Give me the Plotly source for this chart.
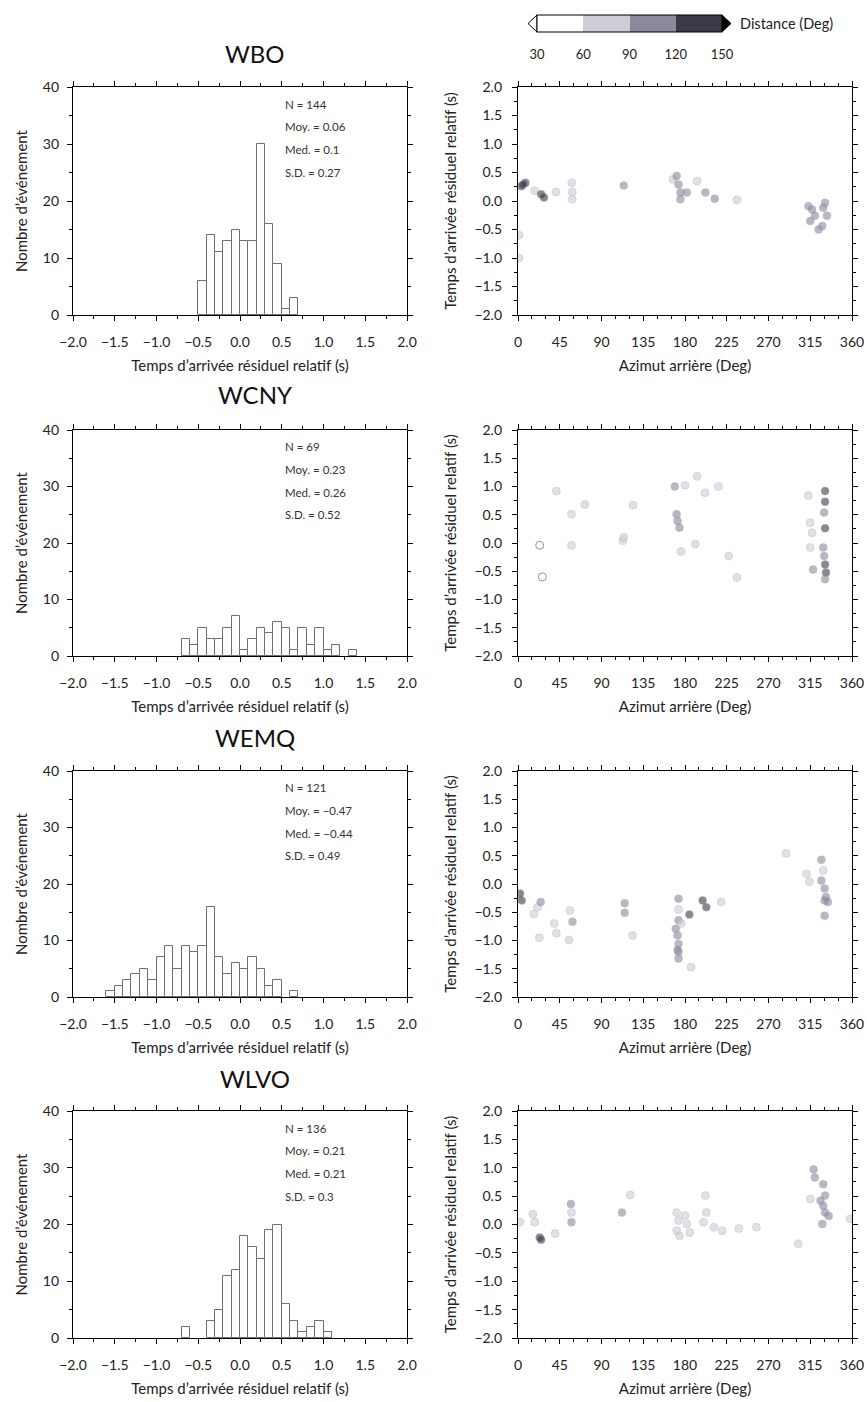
import plotly.graph_objects as go
from plotly.subplots import make_subplots

# station names and summary stats
stations = ["WBO", "WCNY", "WEMQ", "WLVO"]
stats_n = ["144", "69", "121", "136"]
stats_moy = ["0.06", "0.23", "\u22120.47", "0.21"]
stats_med = ["0.1", "0.26", "\u22120.44", "0.21"]
stats_sd = ["0.27", "0.52", "0.49", "0.3"]

# histogram bins (left edge, width 0.1 s) and counts
wbo_bins = [-0.5, -0.4, -0.3, -0.2, -0.1, 0.0, 0.1, 0.2, 0.3, 0.4, 0.5, 0.6]
wbo_counts = [6, 14, 11, 13, 15, 13, 13, 30, 16, 9, 1, 3]

wcny_bins = [-0.7, -0.6, -0.5, -0.4, -0.3, -0.2, -0.1, 0.0, 0.1, 0.2,
             0.3, 0.4, 0.5, 0.6, 0.7, 0.8, 0.9, 1.0, 1.1, 1.3]
wcny_counts = [3, 2, 5, 3, 3, 5, 7, 1, 3, 5, 4, 6, 5, 1, 5, 2, 5, 1, 2, 1]

wemq_bins = [-1.6, -1.5, -1.4, -1.3, -1.2, -1.1, -1.0, -0.9, -0.8, -0.7, -0.6,
             -0.5, -0.4, -0.3, -0.2, -0.1, 0.0, 0.1, 0.2, 0.3, 0.4, 0.6]
wemq_counts = [1, 2, 3, 4, 5, 3, 7, 9, 5, 9, 8, 9, 16, 7, 4, 6, 5, 7, 5, 2, 3, 1]

wlvo_bins = [-0.7, -0.4, -0.3, -0.2, -0.1, 0.0, 0.1, 0.2, 0.3, 0.4, 0.5,
             0.6, 0.7, 0.8, 0.9, 1.0]
wlvo_counts = [2, 3, 5, 11, 12, 18, 16, 14, 19, 20, 6, 3, 1, 2, 3, 1]

# back azimuth (deg), relative residual (s), epicentral distance (deg)
wbo_az = [3.6, 5.4, 8, 18, 25, 28, 41, 58, 58.5, 58.5, 114, 167, 171, 173, 175, 175,
          182, 193, 202, 212, 236, 313, 315, 317, 320, 324, 328, 329, 331, 333, 1, 1]
wbo_res = [0.26, 0.29, 0.32, 0.18, 0.12, 0.06, 0.16, 0.32, 0.16, 0.03, 0.27, 0.38, 0.44,
           0.29, 0.15, 0.03, 0.15, 0.35, 0.15, 0.04, 0.02, -0.09, -0.35, -0.15, -0.26,
           -0.5, -0.44, -0.12, -0.03, -0.26, -0.6, -1.0]
wbo_dist = [130, 130, 130, 70, 130, 130, 70, 80, 85, 85, 90, 85, 95, 95, 95, 90,
            95, 70, 95, 95, 65, 90, 95, 90, 95, 95, 100, 110, 110, 100, 65, 65]

wcny_az = [23.4, 26.3, 41.4, 57.6, 57.6, 72, 113, 114, 124, 169, 180, 171, 172, 174,
           175.7, 191, 201.6, 193, 216, 227, 236, 313, 331, 331, 330, 331, 315, 317,
           315, 318, 329, 330, 331, 332, 331]
wcny_res = [-0.04, -0.6, 0.92, 0.51, -0.04, 0.68, 0.04, 0.1, 0.67, 1.0, 1.02, 0.51,
            0.39, 0.27, -0.15, -0.02, 0.89, 1.18, 1.0, -0.23, -0.61, 0.84, 0.92, 0.73,
            0.54, 0.26, 0.36, 0.18, -0.08, -0.47, -0.08, -0.23, -0.38, -0.52, -0.64]
wcny_dist = [45, 45, 80, 85, 85, 65, 85, 85, 65, 100, 85, 100, 100, 100, 85, 65, 85,
             65, 65, 65, 65, 70, 130, 130, 100, 130, 80, 70, 80, 90, 95, 100, 130, 120, 100]

wemq_az = [2.2, 4, 17, 21, 24.5, 23, 39, 41.4, 56, 58.7, 55, 115, 115, 123.5, 173, 173,
           173, 170, 172, 173, 172, 173, 186.5, 184.7, 199, 203, 219, 327, 329, 327,
           330.5, 332, 334, 330.5, 330.5, 311, 314, 289, 173, 176]
wemq_res = [-0.17, -0.29, -0.53, -0.41, -0.32, -0.95, -0.70, -0.87, -0.47, -0.67, -0.99,
            -0.34, -0.51, -0.91, -0.26, -0.45, -0.64, -0.79, -0.91, -1.06, -1.17, -1.32,
            -1.47, -0.54, -0.29, -0.41, -0.32, 0.43, 0.24, 0.06, -0.08, -0.23, -0.32,
            -0.29, -0.56, 0.18, 0.04, 0.54, -1.2, -0.7]
wemq_dist = [120, 125, 75, 85, 95, 85, 85, 85, 80, 95, 85, 95, 95, 85, 95, 85, 90, 95,
             95, 95, 95, 95, 70, 135, 130, 130, 65, 95, 85, 90, 95, 95, 100, 95, 95,
             65, 65, 65, 95, 80]

wlvo_az = [2, 16, 18, 23.4, 25, 40, 57, 57.6, 57.6, 112, 121, 171, 173, 171, 174, 182,
           185, 180, 202, 203, 200, 211, 220, 238, 257, 318.6, 320, 315, 329, 331, 329,
           331, 334.8, 326, 328, 358, 302]
wlvo_res = [0.04, 0.18, 0.04, -0.23, -0.27, -0.16, 0.36, 0.21, 0.04, 0.21, 0.52, 0.21,
            0.07, -0.11, -0.2, 0.01, -0.14, 0.16, 0.51, 0.21, 0.04, -0.05, -0.11, -0.07,
            -0.05, 0.97, 0.83, 0.45, 0.71, 0.51, 0.33, 0.21, 0.15, 0.42, 0.01, 0.1, -0.34]
wlvo_dist = [70, 65, 75, 130, 135, 75, 95, 80, 90, 100, 85, 85, 85, 85, 80, 85, 75, 80,
             85, 65, 85, 85, 75, 70, 65, 100, 95, 65, 115, 100, 95, 95, 90, 100, 115, 80, 65]

dist_ticks = [30, 60, 90, 120, 150]

hist_data = [(wbo_bins, wbo_counts), (wcny_bins, wcny_counts),
             (wemq_bins, wemq_counts), (wlvo_bins, wlvo_counts)]
scat_data = [(wbo_az, wbo_res, wbo_dist), (wcny_az, wcny_res, wcny_dist),
             (wemq_az, wemq_res, wemq_dist), (wlvo_az, wlvo_res, wlvo_dist)]

FONT = "Lato"
W, H = 867, 1402

fig = make_subplots(rows=4, cols=2)

# pixel layout of the plot boxes
left_x = (73, 407)
right_x = (518, 852)
row_y = [(87, 315), (430, 656), (771, 997), (1111, 1338)]
title_y = [53, 395, 737, 1078]

for i in range(4):
    bins, counts = hist_data[i]
    fig.add_trace(go.Bar(x=bins, y=counts, width=0.1, offset=0,
                         marker=dict(color="white", line=dict(color="#707070", width=1)),
                         showlegend=False), row=i + 1, col=1)
    az, res, dist = scat_data[i]
    edge = ["#222222" if d < 60 else "rgba(125,125,160,0.45)" for d in dist]
    fig.add_trace(go.Scatter(x=az, y=res, mode="markers",
                             marker=dict(size=8, color=dist, coloraxis="coloraxis",
                                         opacity=0.6, line=dict(color=edge, width=0.8)),
                             showlegend=False), row=i + 1, col=2)

axis_common = dict(showline=True, linecolor="black", linewidth=1.3, mirror="ticks",
                   ticks="outside", ticklen=5, tickcolor="black", tickwidth=1,
                   showgrid=False, zeroline=False, automargin=False,
                   tickfont=dict(family=FONT, size=14, color="#222"),
                   title_font=dict(family=FONT, size=15, color="#222"))

for i in range(4):
    y0 = 1 - row_y[i][1] / H
    y1 = 1 - row_y[i][0] / H
    k = 2 * i + 1
    # histogram axes
    fig.layout[f"xaxis{k if k > 1 else ''}"].update(
        domain=[left_x[0] / W, left_x[1] / W], range=[-2, 2], dtick=0.5, tickformat=".1f",
        ticklabelstandoff=9,
        minor=dict(dtick=0.25, ticklen=3, ticks="outside", tickcolor="black"),
        title=dict(text="Temps d\u2019arrivée résiduel relatif (s)", standoff=11), **axis_common)
    fig.layout[f"yaxis{k if k > 1 else ''}"].update(
        domain=[y0, y1], range=[0, 40], dtick=10, ticklabelstandoff=5,
        minor=dict(dtick=5, ticklen=3, ticks="outside", tickcolor="black"),
        title=dict(text="Nombre d\u2019événement", standoff=11), **axis_common)
    # scatter axes
    fig.layout[f"xaxis{k + 1}"].update(
        domain=[right_x[0] / W, right_x[1] / W], range=[0, 360], dtick=45,
        ticklabelstandoff=9,
        minor=dict(dtick=15, ticklen=3, ticks="outside", tickcolor="black"),
        title=dict(text="Azimut arrière (Deg)", standoff=11), **axis_common)
    fig.layout[f"yaxis{k + 1}"].update(
        domain=[y0, y1], range=[-2, 2], dtick=0.5, tickformat=".1f", ticklabelstandoff=7,
        minor=dict(dtick=0.25, ticklen=3, ticks="outside", tickcolor="black"),
        title=dict(text="Temps d\u2019arrivée résiduel relatif (s)", standoff=14), **axis_common)

    # station name
    fig.add_annotation(text=stations[i], x=255 / W, y=1 - title_y[i] / H, xref="paper",
                       yref="paper", showarrow=False, xanchor="center", yanchor="middle",
                       font=dict(family=FONT, size=24, color="#111"))
    # stats box
    xr = "x domain" if i == 0 else f"x{k} domain"
    yr = "y domain" if i == 0 else f"y{k} domain"
    lines = [f"N = {stats_n[i]}", f"Moy. = {stats_moy[i]}",
             f"Med. = {stats_med[i]}", f"S.D. = {stats_sd[i]}"]
    for j, t in enumerate(lines):
        fig.add_annotation(text=t, x=0.63, y=0.925 - 0.1 * j, xref=xr, yref=yr,
                           showarrow=False, xanchor="left", yanchor="middle",
                           font=dict(family=FONT, size=11.5, color="#333"))

# discrete distance colour scale
cs = [[0.0, "#ffffff"], [0.25, "#ffffff"],
      [0.25, "#cdcdd8"], [0.5, "#cdcdd8"],
      [0.5, "#8a8a9c"], [0.75, "#8a8a9c"],
      [0.75, "#3a3a46"], [1.0, "#3a3a46"]]

fig.update_layout(
    width=W, height=H,
    margin=dict(l=0, r=0, t=0, b=0, autoexpand=False),
    paper_bgcolor="white", plot_bgcolor="white",
    font=dict(family=FONT, size=12, color="#222"),
    bargap=0,
    coloraxis=dict(
        colorscale=cs, cmin=dist_ticks[0], cmax=dist_ticks[-1],
        colorbar=dict(orientation="h", x=629.5 / W, xanchor="center",
                      y=1 - 15 / H, yanchor="top", len=185 / W, lenmode="fraction",
                      thickness=17, xpad=0, ypad=0, outlinecolor="black", outlinewidth=1,
                      tickvals=dist_ticks, ticks="outside", ticklen=11,
                      tickcolor="rgba(0,0,0,0)",
                      tickfont=dict(family=FONT, size=13, color="#222")),
    ),
)

fig.add_annotation(text="Distance (Deg)", x=738 / W, y=1 - 23 / H, xref="paper",
                   yref="paper", showarrow=False, xanchor="left", yanchor="middle",
                   font=dict(family=FONT, size=14.5, color="#222"))

# end triangles of the colour bar
tl, tr = 528 / W, 537 / W
ul, ur = 722 / W, 731 / W
yt, yb, ym = 1 - 15 / H, 1 - 32 / H, 1 - 23.5 / H
fig.add_shape(type="path", xref="paper", yref="paper",
              path=f"M {tr} {yt} L {tl} {ym} L {tr} {yb} Z",
              fillcolor="white", line=dict(color="black", width=1))
fig.add_shape(type="path", xref="paper", yref="paper",
              path=f"M {ul} {yt} L {ur} {ym} L {ul} {yb} Z",
              fillcolor="black", line=dict(color="black", width=1))

# drop the default page margin so the figure sits at the window corner
fig.write_html("out.html", config={"displayModeBar": False},
               post_script="document.body.style.margin='0';")
